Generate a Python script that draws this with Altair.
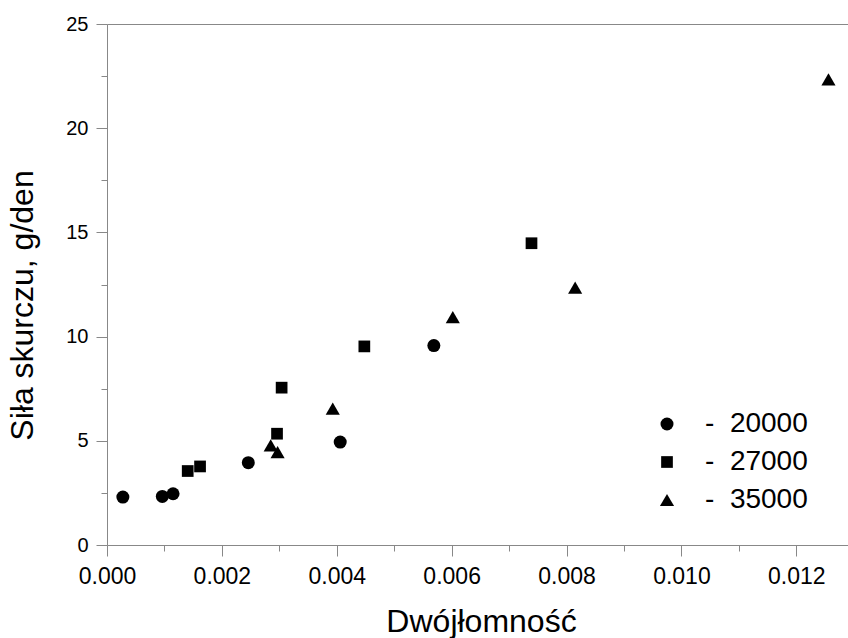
import altair as alt
import pandas as pd

FONT = "Liberation Sans"

series_names = ["20000", "27000", "35000"]
x_20000 = [0.000276, 0.000963, 0.00115, 0.00246, 0.00406, 0.00569]
y_20000 = [2.30, 2.33, 2.46, 3.95, 4.94, 9.57]
x_27000 = [0.001405, 0.00162, 0.00296, 0.00304, 0.00448, 0.00739]
y_27000 = [3.55, 3.77, 5.34, 7.55, 9.53, 14.48]
x_35000 = [0.00285, 0.00297, 0.00393, 0.00602, 0.00815, 0.01256]
y_35000 = [4.78, 4.46, 6.54, 10.94, 12.35, 22.34]

x_ticks = [0.0, 0.001, 0.002, 0.003, 0.004, 0.005, 0.006, 0.007, 0.008,
           0.009, 0.010, 0.011, 0.012]
y_ticks = [0, 2.5, 5, 7.5, 10, 12.5, 15, 17.5, 20, 22.5, 25]

rows = []
for name, xs, ys in zip(series_names, [x_20000, x_27000, x_35000],
                        [y_20000, y_27000, y_35000]):
    for a, b in zip(xs, ys):
        rows.append({"x": a, "y": b, "series": name})
df = pd.DataFrame(rows)

xscale = alt.Scale(domain=[0, 0.0129], nice=False, zero=False)
yscale = alt.Scale(domain=[0, 25], nice=False, zero=False)

x_major = "round(datum.value*1000) % 2 === 0"
y_major = "round(datum.value*2) % 2 === 0"

x_axis = alt.Axis(
    values=x_ticks, format=".3f",
    labelExpr=f"{x_major} ? datum.label : ''",
    tickSize={"condition": {"test": x_major, "value": 11}, "value": 6},
    labelFontSize=23, labelPadding=9, labelOverlap=False, labelFlush=False,
    title="Dwójłomność", titleFontSize=32, titleFontWeight="normal",
    titleX=374, titleY=86, titleBaseline="alphabetic", titleAlign="center",
    grid=False,
)
y_axis = alt.Axis(
    values=y_ticks,
    labelExpr=f"{y_major} ? datum.label : ''",
    tickSize={"condition": {"test": y_major, "value": 11}, "value": 6},
    labelFontSize=20, labelPadding=8, labelOverlap=False, labelFlush=False,
    title="Siła skurczu, g/den", titleFontSize=32, titleFontWeight="normal",
    titleX=-75, titleY=281, titleBaseline="alphabetic", titleAlign="center",
    titleAngle=270, grid=False,
)

legend = alt.Legend(
    orient="none", legendX=546, legendY=386, title=None,
    labelFontSize=28, labelFont=FONT, labelColor="black",
    labelExpr="'-\u00a0\u00a0' + datum.label", labelOffset=24,
    rowPadding=10, padding=0, offset=0,
    symbolFillColor="black", symbolStrokeColor="black", symbolStrokeWidth=0,
    symbolOpacity=1,
)

points = alt.Chart(df).mark_point(filled=True, color="black", opacity=1).encode(
    x=alt.X("x:Q", scale=xscale, axis=x_axis),
    y=alt.Y("y:Q", scale=yscale, axis=y_axis),
    shape=alt.Shape("series:N",
                    scale=alt.Scale(domain=series_names,
                                    range=["circle", "square", "triangle-up"]),
                    legend=legend),
    size=alt.Size("series:N",
                  scale=alt.Scale(type="ordinal", domain=series_names,
                                  range=[169, 137, 200]),
                  legend=legend),
)

top = alt.Chart(df).mark_point(opacity=0).encode(
    x=alt.X("x:Q", scale=xscale,
            axis=alt.Axis(orient="top", labels=False, ticks=False, domain=True,
                          title=None, grid=False)),
    y=alt.Y("y:Q", scale=yscale, axis=None),
)

chart = alt.layer(points, top).resolve_axis(x="independent", y="independent").properties(
    width=741, height=521,
    autosize=alt.AutoSizeParams(type="none"),
    padding={"left": 107, "top": 24, "right": 0, "bottom": 93},
).configure_view(stroke=None).configure_axis(
    domainColor="black", domainWidth=2, tickColor="black", tickWidth=2,
    labelColor="black", titleColor="black", labelFont=FONT, titleFont=FONT,
).configure(background="white")

chart.save("out.html", embed_options={"renderer": "svg", "actions": False})
